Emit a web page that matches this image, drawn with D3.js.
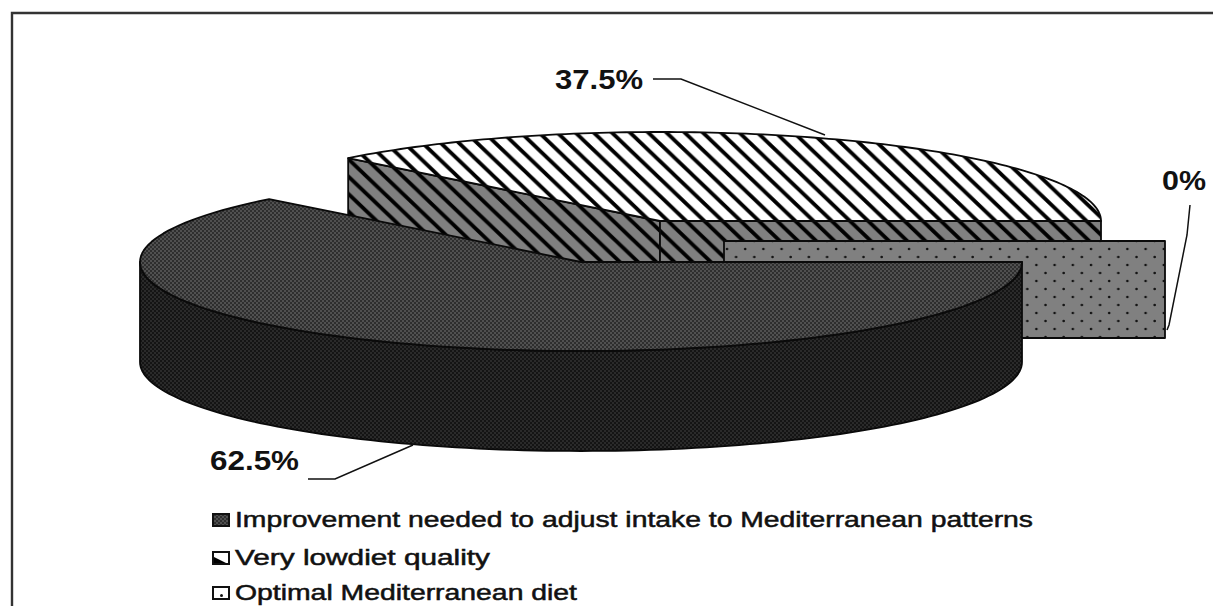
<!DOCTYPE html>
<html>
<head>
<meta charset="utf-8">
<script src="https://cdn.jsdelivr.net/npm/d3@7"></script>
<style>
    html, body { margin: 0; padding: 0; background: #fff; overflow: hidden; }
    svg { display: block; }
    text { font-family: "Liberation Sans", Arial, sans-serif; fill: #111; }
</style>
</head>
<body>
<div id="chart"></div>
<script>
var categories = [
    "Improvement needed to adjust intake to Mediterranean patterns",
    "Very lowdiet quality",
    "Optimal Mediterranean diet"
];
var values = [62.5, 37.5, 0];
var valueLabels = ["62.5%", "37.5%", "0%"];

var width = 1213, height = 606;
var rx = 441, ry = 89, depth = 100;

// where each slice's apex ended up after being pulled out of the pie
var apex = [
    { x: 581, y: 262 },
    { x: 660, y: 221 },
    { x: 724, y: 241 }
];

var svg = d3.select("#chart").append("svg")
    .attr("width", width)
    .attr("height", height);

var defs = svg.append("defs");

function dither(id, bg, fg) {
    var p = defs.append("pattern").attr("id", id)
        .attr("patternUnits", "userSpaceOnUse")
        .attr("width", 4).attr("height", 4);
    p.append("rect").attr("width", 4).attr("height", 4).attr("fill", bg);
    p.append("rect").attr("x", 0).attr("y", 0).attr("width", 2).attr("height", 2).attr("fill", fg);
    p.append("rect").attr("x", 2).attr("y", 2).attr("width", 2).attr("height", 2).attr("fill", fg);
}
dither("topDark", "#505050", "#2e2e2e");
dither("sideDark", "#2a2a2a", "#141414");

function hatch(id, bg) {
    var w = 18.2, h = 17.4;
    var p = defs.append("pattern").attr("id", id)
        .attr("patternUnits", "userSpaceOnUse")
        .attr("width", w).attr("height", h);
    p.append("rect").attr("width", w).attr("height", h).attr("fill", bg);
    // the main diagonal plus its two neighbours, so the stroke wraps across the tile corners
    p.append("path")
        .attr("d", "M" + (-w) + "," + (-h) + "L" + (2 * w) + "," + (2 * h) +
            "M0," + (-h) + "L" + (2 * w) + "," + h +
            "M" + (-w) + ",0L" + w + "," + (2 * h))
        .attr("stroke", "#000").attr("stroke-width", 3.8);
}
hatch("hatchWhite", "#fff");
hatch("hatchGray", "#808080");

function dots(id, bg) {
    var p = defs.append("pattern").attr("id", id)
        .attr("patternUnits", "userSpaceOnUse")
        .attr("width", 18.2).attr("height", 16)
        .attr("x", 724).attr("y", 245);
    p.append("rect").attr("width", 18.2).attr("height", 16).attr("fill", bg);
    p.append("circle").attr("cx", 3).attr("cy", 4).attr("r", 1.3).attr("fill", "#111");
    p.append("circle").attr("cx", 12.1).attr("cy", 12).attr("r", 1.3).attr("fill", "#111");
}
dots("dotsGray", "#808080");

var topFill = ["url(#topDark)", "url(#hatchWhite)", "url(#dotsGray)"];
var sideFill = ["url(#sideDark)", "url(#hatchGray)", "url(#dotsGray)"];

var pie = d3.pie().sort(null)
    .startAngle(Math.PI / 2)
    .endAngle(Math.PI / 2 + 2 * Math.PI);
var arcs = pie(values);

// pie angle -> point on the tilted rim of slice i
function rim(i, a, drop) {
    return [apex[i].x + rx * Math.sin(a), apex[i].y - ry * Math.cos(a) + (drop || 0)];
}
function rimPoints(i, a0, a1, drop) {
    return d3.range(0, 121).map(function (k) {
        return rim(i, a0 + (a1 - a0) * k / 120, drop);
    });
}
var line = d3.line();
var outline = { stroke: "#0a0a0a", width: 1.8 };

function shape(points, fill) {
    svg.append("path")
        .attr("d", line(points) + "Z")
        .attr("fill", fill)
        .attr("stroke", outline.stroke)
        .attr("stroke-width", outline.width)
        .attr("stroke-linejoin", "round");
}

// frame, open at right and bottom like the cropped original
svg.append("path")
    .attr("d", "M12," + height + "V13H" + width)
    .attr("fill", "none")
    .attr("stroke", "#333")
    .attr("stroke-width", 2.4);

// hatched slice: the walls first, top on them
var h = arcs[1];
var hA = { x: apex[1].x, y: apex[1].y };
shape([[hA.x, hA.y], rim(1, h.startAngle), rim(1, h.startAngle, depth), [hA.x, hA.y + depth]], sideFill[1]);
shape([[hA.x, hA.y], rim(1, h.endAngle), rim(1, h.endAngle, depth), [hA.x, hA.y + depth]], sideFill[1]);
shape([[hA.x, hA.y]].concat(rimPoints(1, h.startAngle, h.endAngle)), topFill[1]);

// the 0% slice has no top, only a flat wall
var z = arcs[2];
var zA = apex[2];
shape([[zA.x, zA.y], rim(2, z.startAngle), rim(2, z.startAngle, 97), [zA.x, zA.y + 97]], sideFill[2]);

// dark slice
var d0 = arcs[0];
var wallEnd = Math.min(d0.endAngle, 1.5 * Math.PI);
shape(rimPoints(0, d0.startAngle, wallEnd)
    .concat(rimPoints(0, wallEnd, d0.startAngle, depth)), sideFill[0]);
shape([[apex[0].x, apex[0].y]].concat(rimPoints(0, d0.startAngle, d0.endAngle)), topFill[0]);

// value labels with their leaders
var labelBox = [
    { x: 210, y: 470, w: 89 },
    { x: 555, y: 89, w: 88 },
    { x: 1162, y: 190, w: 44 }
];
svg.selectAll(".value")
    .data(valueLabels)
    .enter().append("text")
    .attr("class", "value")
    .attr("x", function (d, i) { return labelBox[i].x; })
    .attr("y", function (d, i) { return labelBox[i].y; })
    .attr("textLength", function (d, i) { return labelBox[i].w; })
    .attr("lengthAdjust", "spacingAndGlyphs")
    .attr("font-size", 27)
    .attr("font-weight", "bold")
    .text(function (d) { return d; });

var leaders = [
    [[308, 479], [335, 479], [413, 445]],
    [[653, 79], [681, 79], [825, 135]],
    [[1190, 205], [1187, 235], [1169, 325], [1167, 330]]
];
svg.selectAll(".leader")
    .data(leaders)
    .enter().append("path")
    .attr("class", "leader")
    .attr("d", line)
    .attr("fill", "none")
    .attr("stroke", "#111")
    .attr("stroke-width", 1.5);

// legend
var legendBox = [
    { y: 527, w: 798 },
    { y: 565, w: 255 },
    { y: 600, w: 342 }
];
var swatch = ["url(#topDark)", "url(#legendHatch)", "url(#legendDot)"];

var lh = defs.append("pattern").attr("id", "legendHatch")
    .attr("patternUnits", "userSpaceOnUse")
    .attr("width", 18).attr("height", 14).attr("x", 212).attr("y", 551);
lh.append("rect").attr("width", 18).attr("height", 14).attr("fill", "#fff");
lh.append("path").attr("d", "M0,5L18,14H0Z").attr("fill", "#000");

var ld = defs.append("pattern").attr("id", "legendDot")
    .attr("patternUnits", "userSpaceOnUse")
    .attr("width", 17).attr("height", 13).attr("x", 213).attr("y", 588);
ld.append("rect").attr("width", 17).attr("height", 13).attr("fill", "#fff");
ld.append("circle").attr("cx", 8.5).attr("cy", 7.5).attr("r", 1.5).attr("fill", "#111");

var legend = svg.selectAll(".legend")
    .data(categories)
    .enter().append("g")
    .attr("class", "legend");

legend.append("rect")
    .attr("x", 213)
    .attr("y", function (d, i) { return legendBox[i].y - 13; })
    .attr("width", 16)
    .attr("height", 12)
    .attr("fill", function (d, i) { return swatch[i]; })
    .attr("stroke", "#111")
    .attr("stroke-width", 2);

legend.append("text")
    .attr("x", 235)
    .attr("y", function (d, i) { return legendBox[i].y; })
    .attr("textLength", function (d, i) { return legendBox[i].w; })
    .attr("lengthAdjust", "spacingAndGlyphs")
    .attr("font-size", 22)
    .attr("stroke", "#111")
    .attr("stroke-width", 0.5)
    .text(function (d) { return d; });
</script>
</body>
</html>
